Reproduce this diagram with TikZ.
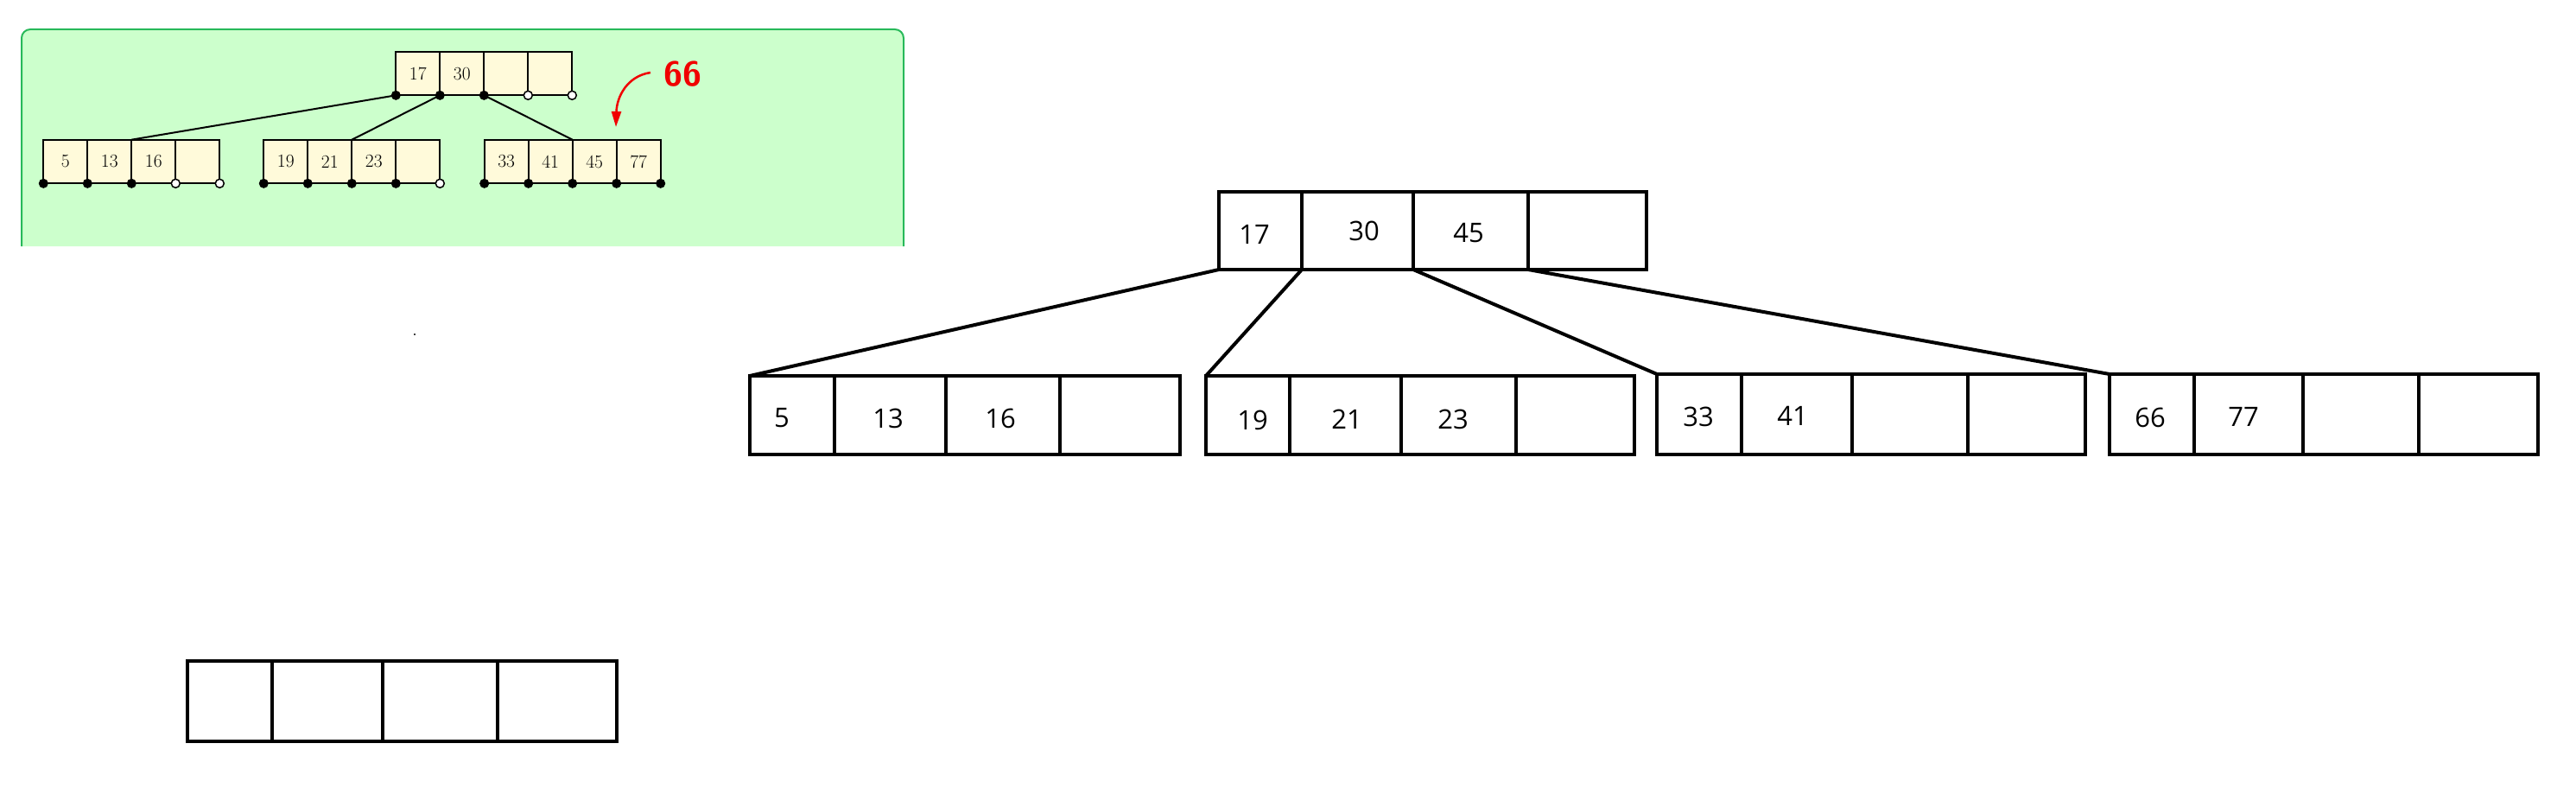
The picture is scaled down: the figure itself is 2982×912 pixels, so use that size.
\documentclass[tikz,border=0pt]{standalone}
\usepackage{fontspec}
\newfontfamily\bigfont{Open Sans}
\usetikzlibrary{arrows.meta}
\definecolor{panelfill}{RGB}{204,255,204}
\definecolor{panelline}{RGB}{40,185,90}
\definecolor{cellfill}{RGB}{255,250,218}
\definecolor{arrowred}{RGB}{240,0,0}
\tikzset{
  bigcell/.style={draw=black, line width=4.5pt, rectangle, inner sep=0pt, outer sep=0pt},
  smallcell/.style={draw=black, line width=2pt, fill=cellfill, rectangle, inner sep=0pt, outer sep=0pt},
  bignum/.style={font=\bigfont\fontsize{31}{36}\selectfont, inner sep=0pt},
  smallnum/.style={font=\fontsize{21.5}{26}\selectfont, inner sep=0pt},
  bigedge/.style={draw=black, line width=4pt},
  smalledge/.style={draw=black, line width=2pt},
  fulldot/.style={circle, fill=black, draw=black, line width=1pt, minimum size=10pt, inner sep=0pt},
  opendot/.style={circle, fill=white, draw=black, line width=1.5pt, minimum size=10pt, inner sep=0pt},
}
% #1 style, #2 name, #3 x0, #4 x1, #5 y0, #6 y1
\newcommand\mkcell[6]{\node[#1, minimum width={(#4-#3)*1pt}, minimum height={(#6-#5)*1pt}] (#2) at ({(#3+#4)/2},{(#5+#6)/2}) {};}
\begin{document}
\begin{tikzpicture}[x=1pt, y=-1pt]
\useasboundingbox (0,0) rectangle (2982,912);
% ---------- green panel ----------
\fill[panelfill] (25,285) -- (25,44) arc[start angle=180, end angle=270, radius=10] -- (1036,34) arc[start angle=270, end angle=360, radius=10] -- (1046,285) -- cycle;
\draw[panelline, line width=2pt] (25,285) -- (25,44) arc[start angle=180, end angle=270, radius=10] -- (1036,34) arc[start angle=270, end angle=360, radius=10] -- (1046,285);
% small root
\mkcell{smallcell}{sr1}{458.3}{509.3}{60}{110.3}
\mkcell{smallcell}{sr2}{509.3}{560.3}{60}{110.3}
\mkcell{smallcell}{sr3}{560.3}{611.3}{60}{110.3}
\mkcell{smallcell}{sr4}{611.3}{662.3}{60}{110.3}
% small leaves
\mkcell{smallcell}{sa1}{50.3}{101.3}{161.7}{212.3}
\mkcell{smallcell}{sa2}{101.3}{152.3}{161.7}{212.3}
\mkcell{smallcell}{sa3}{152.3}{203.3}{161.7}{212.3}
\mkcell{smallcell}{sa4}{203.3}{254.3}{161.7}{212.3}
\mkcell{smallcell}{sb1}{305.3}{356.3}{161.7}{212.3}
\mkcell{smallcell}{sb2}{356.3}{407.3}{161.7}{212.3}
\mkcell{smallcell}{sb3}{407.3}{458.3}{161.7}{212.3}
\mkcell{smallcell}{sb4}{458.3}{509.3}{161.7}{212.3}
\mkcell{smallcell}{sc1}{560.7}{611.7}{161.7}{212.3}
\mkcell{smallcell}{sc2}{611.7}{662.7}{161.7}{212.3}
\mkcell{smallcell}{sc3}{662.7}{713.7}{161.7}{212.3}
\mkcell{smallcell}{sc4}{713.7}{764.7}{161.7}{212.3}
% small numbers
\node[smallnum] (t17) at (sr1) {17};
\node[smallnum] (t30) at (sr2) {30};
\node[smallnum] (t5) at (sa1) {5};
\node[smallnum] (t13) at (sa2) {13};
\node[smallnum] (t16) at (sa3) {16};
\node[smallnum] (t19) at (sb1) {19};
\node[smallnum] (t21) at (sb2) {21};
\node[smallnum] (t23) at (sb3) {23};
\node[smallnum] (t33) at (sc1) {33};
\node[smallnum] (t41) at (sc2) {41};
\node[smallnum] (t45) at (sc3) {45};
\node[smallnum] (t77) at (sc4) {77};
% small connectors
\draw[smalledge] (sr1.south west) -- (sa3.north west);
\draw[smalledge] (sr2.south west) -- (sb3.north west);
\draw[smalledge] (sr3.south west) -- (sc3.north west);
% dots
\node[fulldot] (dr0) at (sr1.south west) {};
\node[fulldot] (dr1) at (sr2.south west) {};
\node[fulldot] (dr2) at (sr3.south west) {};
\node[opendot] (dr3) at (sr4.south west) {};
\node[opendot] (dr4) at (sr4.south east) {};
\node[fulldot] (da0) at (sa1.south west) {};
\node[fulldot] (da1) at (sa2.south west) {};
\node[fulldot] (da2) at (sa3.south west) {};
\node[opendot] (da3) at (sa4.south west) {};
\node[opendot] (da4) at (sa4.south east) {};
\node[fulldot] (db0) at (sb1.south west) {};
\node[fulldot] (db1) at (sb2.south west) {};
\node[fulldot] (db2) at (sb3.south west) {};
\node[fulldot] (db3) at (sb4.south west) {};
\node[opendot] (db4) at (sb4.south east) {};
\node[fulldot] (dc0) at (sc1.south west) {};
\node[fulldot] (dc1) at (sc2.south west) {};
\node[fulldot] (dc2) at (sc3.south west) {};
\node[fulldot] (dc3) at (sc4.south west) {};
\node[fulldot] (dc4) at (sc4.south east) {};
% red 66 and arrow
\node[text=arrowred, font=\sffamily\bfseries\fontsize{40}{46}\selectfont, inner sep=0pt] (new66) at (790,86) {66};
\coordinate (astart) at (753,84);
\coordinate (aend) at (713,147);
\draw[arrowred, line width=2.5pt, -{Triangle[length=18pt, width=11pt]}] (astart) .. controls (726,88) and (714,112) .. (aend);
% ---------- big tree ----------
\mkcell{bigcell}{r1}{1411}{1507}{222}{312}
\mkcell{bigcell}{r2}{1507}{1636}{222}{312}
\mkcell{bigcell}{r3}{1636}{1769}{222}{312}
\mkcell{bigcell}{r4}{1769}{1906}{222}{312}
\mkcell{bigcell}{a1}{868}{966}{435}{526}
\mkcell{bigcell}{a2}{966}{1095}{435}{526}
\mkcell{bigcell}{a3}{1095}{1227}{435}{526}
\mkcell{bigcell}{a4}{1227}{1366}{435}{526}
\mkcell{bigcell}{b1}{1396}{1493}{435}{526}
\mkcell{bigcell}{b2}{1493}{1622}{435}{526}
\mkcell{bigcell}{b3}{1622}{1755}{435}{526}
\mkcell{bigcell}{b4}{1755}{1892}{435}{526}
\mkcell{bigcell}{c1}{1918}{2016}{433}{526}
\mkcell{bigcell}{c2}{2016}{2144}{433}{526}
\mkcell{bigcell}{c3}{2144}{2278}{433}{526}
\mkcell{bigcell}{c4}{2278}{2414}{433}{526}
\mkcell{bigcell}{d1}{2442}{2540}{433}{526}
\mkcell{bigcell}{d2}{2540}{2666}{433}{526}
\mkcell{bigcell}{d3}{2666}{2800}{433}{526}
\mkcell{bigcell}{d4}{2800}{2938}{433}{526}
\mkcell{bigcell}{e1}{217}{315}{765}{858}
\mkcell{bigcell}{e2}{315}{443}{765}{858}
\mkcell{bigcell}{e3}{443}{576}{765}{858}
\mkcell{bigcell}{e4}{576}{714}{765}{858}
% big numbers
\node[bignum] (B17) at (1452,271) {17};
\node[bignum] (B30) at (1579,267) {30};
\node[bignum] (B45) at (1700,270) {45};
\node[bignum] (B5) at (905,484) {5};
\node[bignum] (B13) at (1028,484) {13};
\node[bignum] (B16) at (1158,484) {16};
\node[bignum] (B19) at (1450,486) {19};
\node[bignum] (B21) at (1559,485) {21};
\node[bignum] (B23) at (1682,485) {23};
\node[bignum] (B33) at (1966,482) {33};
\node[bignum] (B41) at (2075,481) {41};
\node[bignum] (B66) at (2489,483) {66};
\node[bignum] (B77) at (2597,482) {77};
% big connectors
\draw[bigedge] (r1.south west) -- (a1.north west);
\draw[bigedge] (r2.south west) -- (b1.north west);
\draw[bigedge] (r3.south west) -- (c1.north west);
\draw[bigedge] (r4.south west) -- (d1.north west);
% stray dot
\fill[black!75] (479,386) rectangle (481,388);
\end{tikzpicture}
\end{document}
